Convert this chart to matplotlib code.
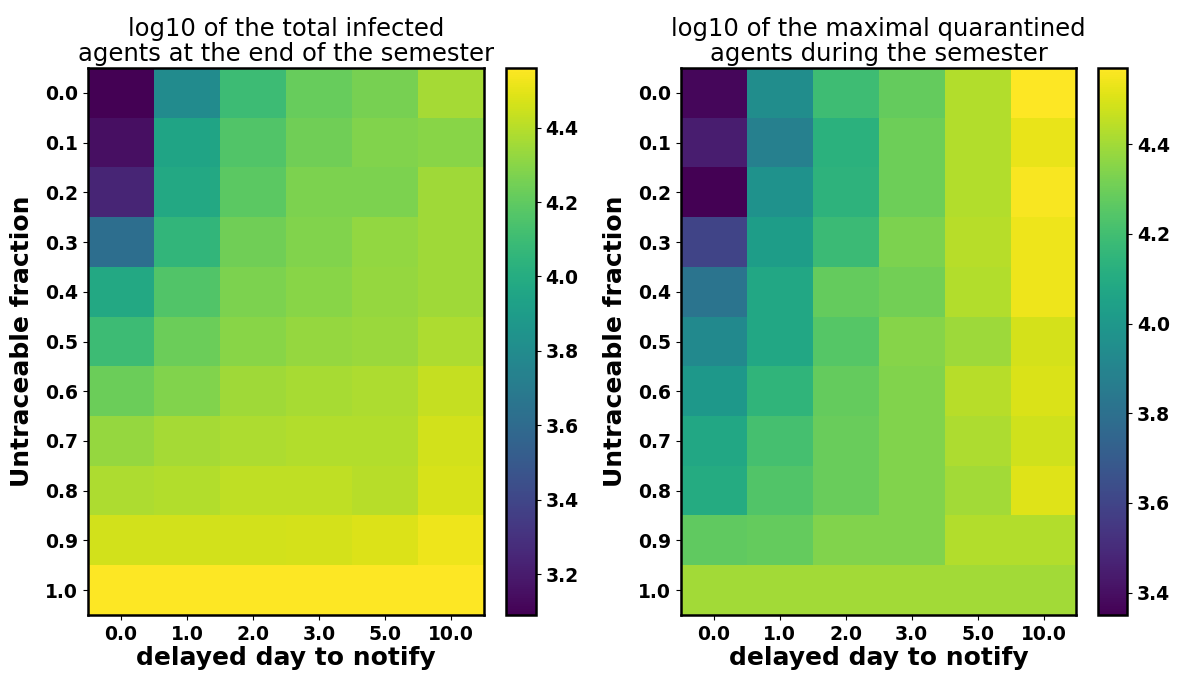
import numpy as np
import matplotlib
matplotlib.use("Agg")
import matplotlib.pyplot as plt

delays = ["0.0", "1.0", "2.0", "3.0", "5.0", "10.0"]
fractions = ["0.0", "0.1", "0.2", "0.3", "0.4", "0.5", "0.6", "0.7", "0.8", "0.9", "1.0"]

# log10 total infected at end of semester (rows: untraceable fraction, cols: delay)
infected = np.array([
    [3.09, 3.80, 4.10, 4.22, 4.26, 4.36],
    [3.15, 3.95, 4.16, 4.24, 4.28, 4.30],
    [3.24, 3.98, 4.19, 4.27, 4.27, 4.35],
    [3.62, 4.06, 4.24, 4.28, 4.32, 4.35],
    [3.98, 4.16, 4.27, 4.30, 4.33, 4.35],
    [4.10, 4.23, 4.30, 4.33, 4.34, 4.38],
    [4.23, 4.28, 4.35, 4.37, 4.38, 4.43],
    [4.33, 4.36, 4.38, 4.39, 4.39, 4.46],
    [4.38, 4.39, 4.42, 4.42, 4.40, 4.47],
    [4.46, 4.46, 4.46, 4.465, 4.48, 4.52],
    [4.56, 4.56, 4.56, 4.56, 4.56, 4.56],
])

# log10 maximal quarantined during semester
quarantined = np.array([
    [3.37, 3.95, 4.19, 4.28, 4.43, 4.57],
    [3.45, 3.88, 4.13, 4.30, 4.43, 4.53],
    [3.35, 3.97, 4.14, 4.30, 4.43, 4.56],
    [3.60, 4.03, 4.18, 4.33, 4.44, 4.54],
    [3.82, 4.08, 4.28, 4.31, 4.43, 4.54],
    [3.93, 4.08, 4.25, 4.35, 4.39, 4.49],
    [4.00, 4.15, 4.28, 4.34, 4.44, 4.50],
    [4.08, 4.21, 4.29, 4.34, 4.42, 4.48],
    [4.10, 4.24, 4.29, 4.34, 4.40, 4.51],
    [4.27, 4.28, 4.34, 4.34, 4.43, 4.43],
    [4.40, 4.40, 4.40, 4.40, 4.40, 4.40],
])

titles = ["log10 of the total infected\nagents at the end of the semester",
          "log10 of the maximal quarantined\nagents during the semester"]

fig = plt.figure(figsize=(11.81, 6.81), dpi=100)
axes_pos = [[0.0745, 0.097, 0.335, 0.803], [0.5765, 0.097, 0.335, 0.803]]
cbar_pos = [[0.4285, 0.097, 0.025, 0.803], [0.9295, 0.097, 0.025, 0.803]]

for data, title, ap, cp in zip([infected, quarantined], titles, axes_pos, cbar_pos):
    ax = fig.add_axes(ap)
    cax = fig.add_axes(cp)
    im = ax.imshow(data, cmap="viridis", aspect="auto", interpolation="nearest")
    ax.set_xticks(range(len(delays)))
    ax.set_xticklabels(delays, fontsize=13.5, fontweight="bold")
    ax.set_yticks(range(len(fractions)))
    ax.set_yticklabels(fractions, fontsize=13.5, fontweight="bold")
    ax.set_xlabel("delayed day to notify", fontsize=18, fontweight="bold", labelpad=2)
    ax.set_ylabel("Untraceable fraction", fontsize=18, fontweight="bold", labelpad=8)
    ax.set_title(title, fontsize=17.5, pad=5, linespacing=1.05)
    for s in ax.spines.values():
        s.set_linewidth(1.8)
    cb = fig.colorbar(im, cax=cax)
    cb.outline.set_linewidth(1.8)
    for t in cb.ax.get_yticklabels():
        t.set_fontsize(13.5)
        t.set_fontweight("bold")

fig.savefig("out.png", dpi=100)
